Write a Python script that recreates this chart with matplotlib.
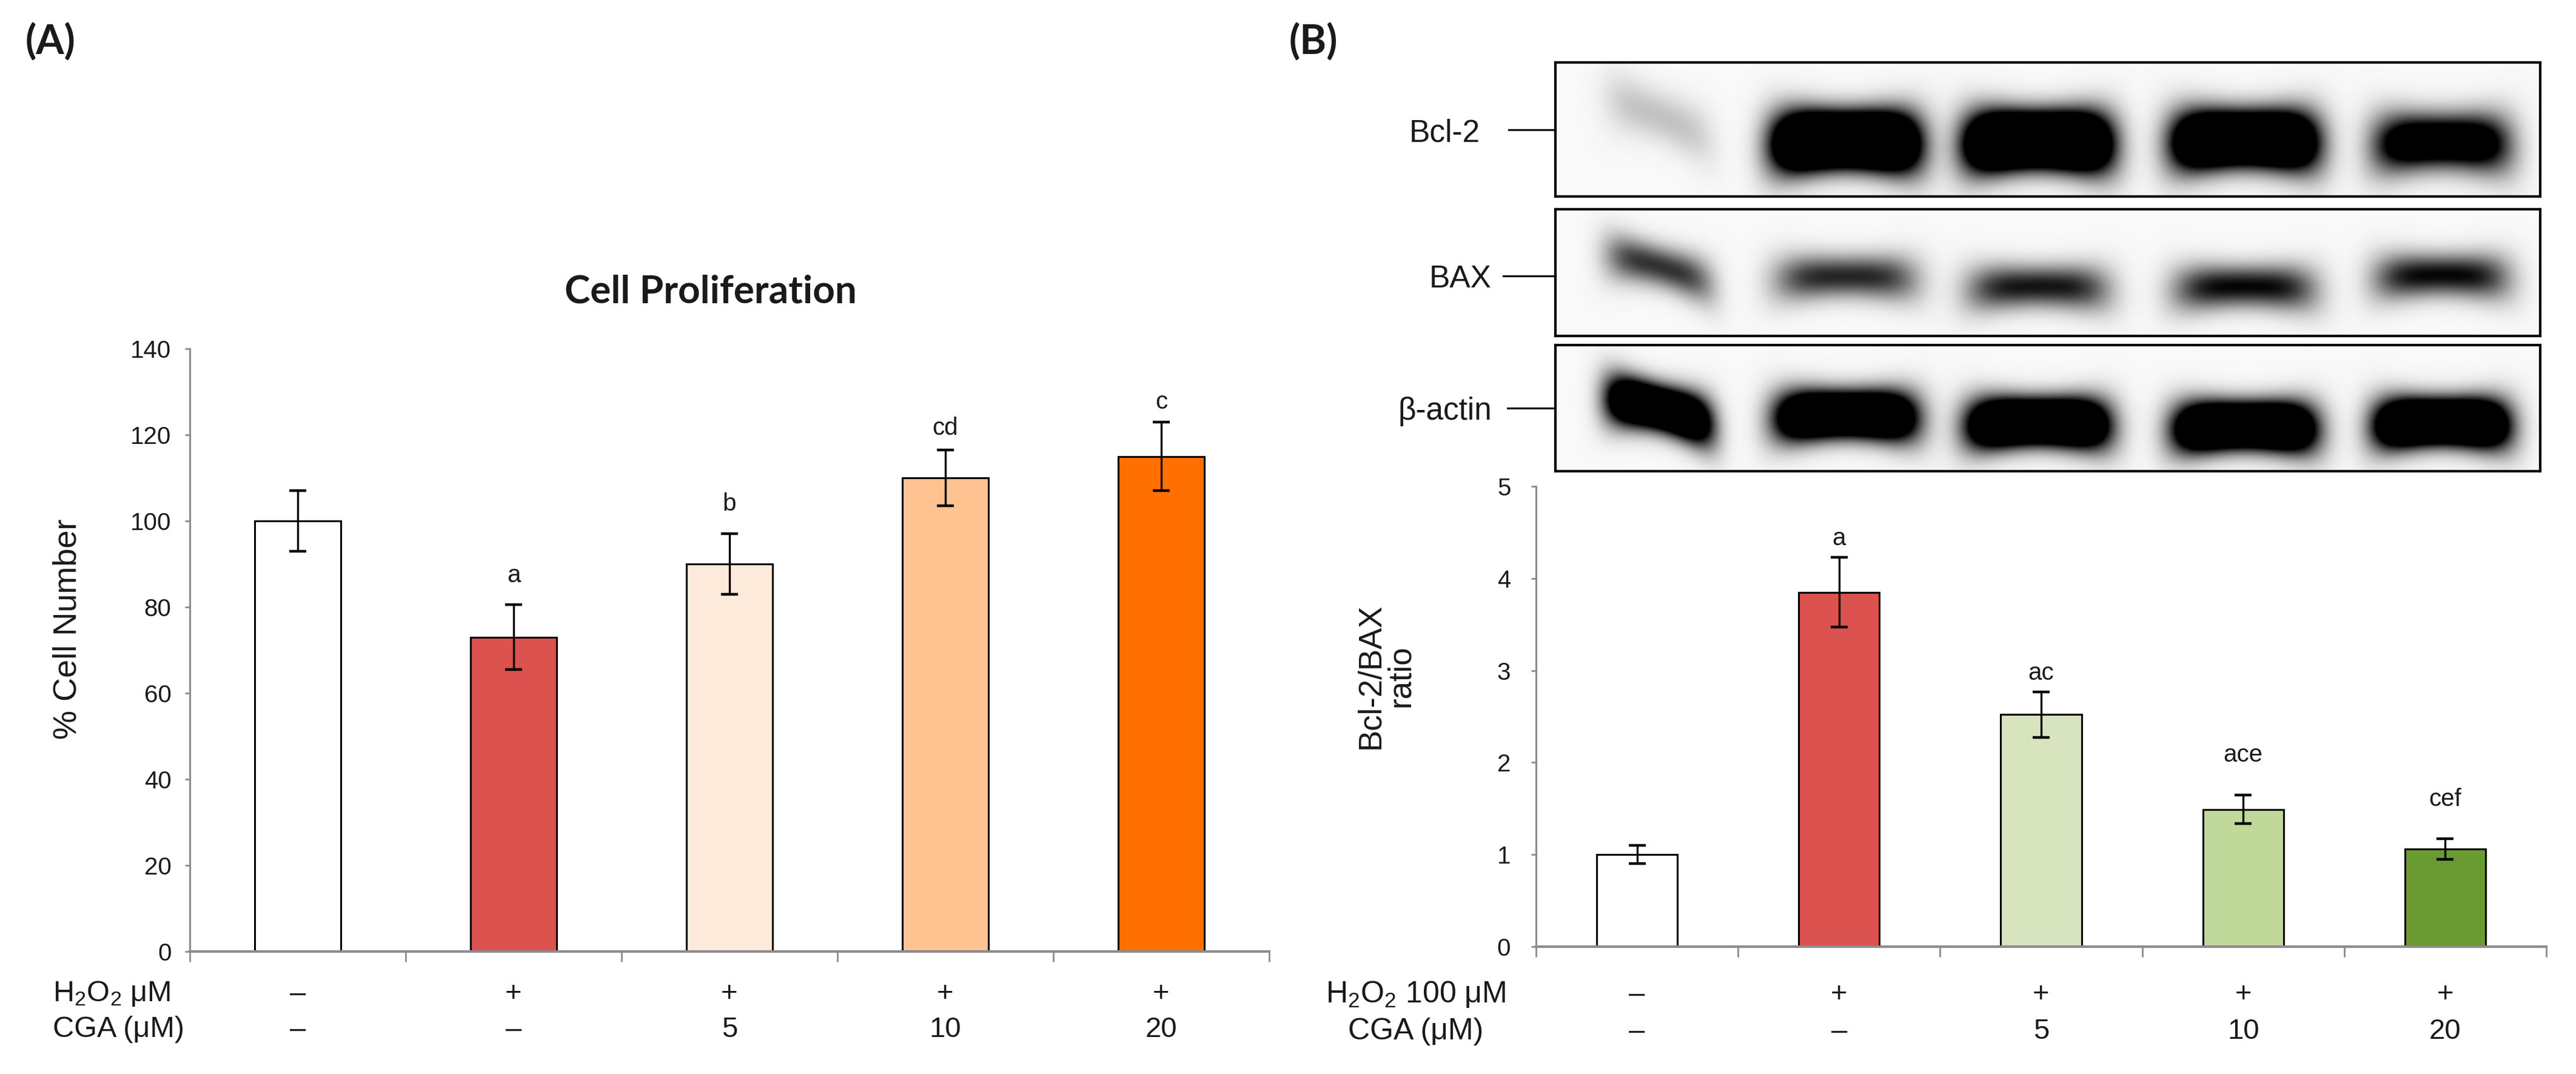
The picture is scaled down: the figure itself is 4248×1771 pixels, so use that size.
import numpy as np
import matplotlib
matplotlib.use("Agg")
import matplotlib.pyplot as plt
from matplotlib.transforms import blended_transform_factory
from matplotlib.lines import Line2D

plt.rcParams['font.family'] = ['Liberation Sans', 'DejaVu Sans']
plt.rcParams['mathtext.fontset'] = 'custom'
plt.rcParams['mathtext.rm'] = 'Liberation Sans'
plt.rcParams['mathtext.it'] = 'Liberation Sans:italic'

# ---------------- data ----------------
h2o2_row = ["–", "+", "+", "+", "+"]
cga_row = ["–", "–", "5", "10", "20"]

prolif_mean = [100, 73, 90, 110, 115]
prolif_err = [7, 7.5, 7, 6.5, 8]
prolif_letters = ["", "a", "b", "cd", "c"]
prolif_letter_y = [None, 85.8, 102.4, 120.0, 126.1]
prolif_colors = ["#FFFFFF", "#DB524F", "#FDEADA", "#FFC391", "#FF7000"]
prolif_yticks = [0, 20, 40, 60, 80, 100, 120, 140]

ratio_mean = [1.0, 3.85, 2.52, 1.49, 1.06]
ratio_err = [0.10, 0.38, 0.25, 0.155, 0.11]
ratio_letters = ["", "a", "ac", "ace", "cef"]
ratio_letter_y = [None, 4.36, 2.90, 2.01, 1.53]
ratio_colors = ["#FFFFFF", "#DB524F", "#D7E4BD", "#C0D89A", "#6A9A32"]
ratio_yticks = [0, 1, 2, 3, 4, 5]

blot_names = ["Bcl-2", "BAX", "β-actin"]
lane_x = [0.105, 0.295, 0.49, 0.70, 0.90]
lane_width_scale = [0.75, 1.0, 1.0, 1.0, 0.95]
bcl2_density = [0.22, 3.2, 3.2, 2.8, 1.6]
bax_density = [0.80, 0.85, 0.92, 0.98, 0.98]
actin_density = [2.4, 2.6, 2.8, 2.8, 2.8]
bcl2_band_y = [0.40, 0.58, 0.58, 0.57, 0.59]
bax_band_y = [0.45, 0.53, 0.61, 0.61, 0.52]
actin_band_y = [0.50, 0.55, 0.61, 0.64, 0.61]
bcl2_tilt = [3.0, 0.0, 0.0, 0.0, 0.0]
bax_tilt = [2.2, 0.0, 0.0, 0.0, 0.0]
actin_tilt = [2.0, 0.0, 0.0, 0.0, 0.0]

# ---------------- figure ----------------
W, H = 4248, 1771
fig = plt.figure(figsize=(W / 100, H / 100), dpi=100)

def fx(px):
    return px / W

def fy(py):
    return (H - py) / H

AXIS_GREY = "#8C8C8C"
TXT = "#1A1A1A"


def bar_panel(ax, means, errs, colors, letters, letter_y, yticks, ymax,
              tick_pad):
    x = np.arange(len(means))
    ax.bar(x, means, width=0.4, color=colors, edgecolor="black",
           linewidth=2.2, zorder=2)
    ax.errorbar(x, means, yerr=errs, fmt="none", ecolor="black",
                elinewidth=2.4, capsize=10, capthick=3.2, zorder=3)
    for xi, lab, ly in zip(x, letters, letter_y):
        if lab:
            ax.text(xi, ly, lab, ha="center", va="baseline", fontsize=29,
                    color=TXT)
    ax.set_xlim(-0.5, len(means) - 0.5)
    ax.set_ylim(0, ymax)
    ax.set_yticks(yticks)
    ax.set_xticks(np.arange(-0.5, len(means)))
    ax.set_xticklabels([])
    for s in ["top", "right"]:
        ax.spines[s].set_visible(False)
    ax.spines["left"].set_color(AXIS_GREY)
    ax.spines["left"].set_linewidth(2.2)
    ax.spines["bottom"].set_color(AXIS_GREY)
    ax.spines["bottom"].set_linewidth(3.0)
    ax.tick_params(axis="y", direction="out", length=6, width=2.0,
                   color=AXIS_GREY, labelsize=29, labelcolor=TXT, pad=tick_pad)
    ax.tick_params(axis="x", direction="out", length=12, width=2.0,
                   color=AXIS_GREY)
    ax.spines["bottom"].set_zorder(4)


# ---------------- Panel A ----------------
axA = fig.add_axes([fx(313), fy(1569), fx(2093 - 313), (1569 - 575) / H])
bar_panel(axA, prolif_mean, prolif_err, prolif_colors, prolif_letters,
          prolif_letter_y, prolif_yticks, 140, 16)

trA = blended_transform_factory(axA.transData, fig.transFigure)
for i, (a, b) in enumerate(zip(h2o2_row, cga_row)):
    axA.text(i, fy(1639), a, transform=trA, ha="center", va="center",
             fontsize=34, color=TXT)
    axA.text(i, fy(1698), b, transform=trA, ha="center", va="center",
             fontsize=34, color=TXT)
fig.text(fx(87), fy(1639), r"H$_\mathregular{2}$O$_\mathregular{2}$ μM",
         ha="left", va="center", fontsize=35, color=TXT)
fig.text(fx(87), fy(1698), "CGA (μM)", ha="left", va="center",
         fontsize=35, color=TXT)
fig.text(fx(112), fy(1037), "% Cell Number", rotation=90, ha="center",
         va="center", fontsize=39, color=TXT)
fig.text(fx(1172), fy(481), "Cell Proliferation", ha="center", va="center",
         fontsize=46, fontweight="bold", family=["Lato", "DejaVu Sans"],
         color=TXT)
fig.text(fx(42), fy(70), "(A)", ha="left", va="center", fontsize=48,
         fontweight="bold", family=["Lato", "DejaVu Sans"], color=TXT)
fig.text(fx(2126), fy(70), "(B)", ha="left", va="center", fontsize=48,
         fontweight="bold", family=["Lato", "DejaVu Sans"], color=TXT)

# ---------------- Panel B chart ----------------
axB = fig.add_axes([fx(2533), fy(1561), fx(4199 - 2533), (1561 - 802) / H])
bar_panel(axB, ratio_mean, ratio_err, ratio_colors, ratio_letters,
          ratio_letter_y, ratio_yticks, 5, 24)

trB = blended_transform_factory(axB.transData, fig.transFigure)
for i, (a, b) in enumerate(zip(h2o2_row, cga_row)):
    axB.text(i, fy(1640), a, transform=trB, ha="center", va="center",
             fontsize=34, color=TXT)
    axB.text(i, fy(1701), b, transform=trB, ha="center", va="center",
             fontsize=34, color=TXT)
fig.text(fx(2335), fy(1640), r"H$_\mathregular{2}$O$_\mathregular{2}$ 100 μM",
         ha="center", va="center", fontsize=36, color=TXT)
fig.text(fx(2335), fy(1701), "CGA (μM)", ha="center", va="center",
         fontsize=36, color=TXT)
fig.text(fx(2285), fy(1115), "Bcl-2/BAX\nratio", rotation=90, ha="center",
         va="center", multialignment="center", fontsize=38, color=TXT,
         linespacing=1.0)

# ---------------- Western blot ----------------

def blot_image(density, band_y, tilts, hw, hh, nx=900, ny=160):
    xs = np.linspace(0, 1, nx)
    ys = np.linspace(0, 1, ny)
    X, Y = np.meshgrid(xs, ys)
    d = np.zeros_like(X)
    for cx, ws, den, cy, tilt in zip(lane_x, lane_width_scale, density,
                                     band_y, tilts):
        dx = (X - cx) / (hw * ws)
        yc = cy + tilt * (X - cx) + 0.03 * dx ** 2
        hh_eff = hh * (1 + 0.30 * dx ** 2)
        d += den * np.exp(-np.abs(dx) ** 4) * np.exp(-((Y - yc) / hh_eff) ** 2)
    bg = 0.975
    return bg * (1 - np.clip(d, 0, 1))


blot_boxes = [(103, 324), (345, 554), (569, 777)]
blot_params = [(bcl2_density, bcl2_band_y, bcl2_tilt, 0.072, 0.19),
               (bax_density, bax_band_y, bax_tilt, 0.072, 0.16),
               (actin_density, actin_band_y, actin_tilt, 0.070, 0.17)]
for (top, bot), (den, by, tl, hw, hh) in zip(blot_boxes, blot_params):
    axb = fig.add_axes([fx(2565), fy(bot), fx(4189 - 2565), (bot - top) / H])
    axb.imshow(blot_image(den, by, tl, hw, hh), cmap="gray", vmin=0, vmax=1,
               aspect="auto", extent=[0, 1, 1, 0], interpolation="bilinear")
    axb.set_xticks([])
    axb.set_yticks([])
    for s in axb.spines.values():
        s.set_linewidth(3.0)
        s.set_color("black")

label_rows = [(214, 2441, 2488, 2565), (455, 2460, 2479, 2562),
              (673, 2460, 2486, 2565)]
for name, (yy, xr, l0, l1) in zip(blot_names, label_rows):
    fig.text(fx(xr), fy(yy), name, ha="right", va="center_baseline",
             fontsize=37, color=TXT)
    fig.add_artist(Line2D([fx(l0), fx(l1)], [fy(yy), fy(yy)],
                          color="black", linewidth=2.2))

fig.savefig("out.png", dpi=100, facecolor="white")
